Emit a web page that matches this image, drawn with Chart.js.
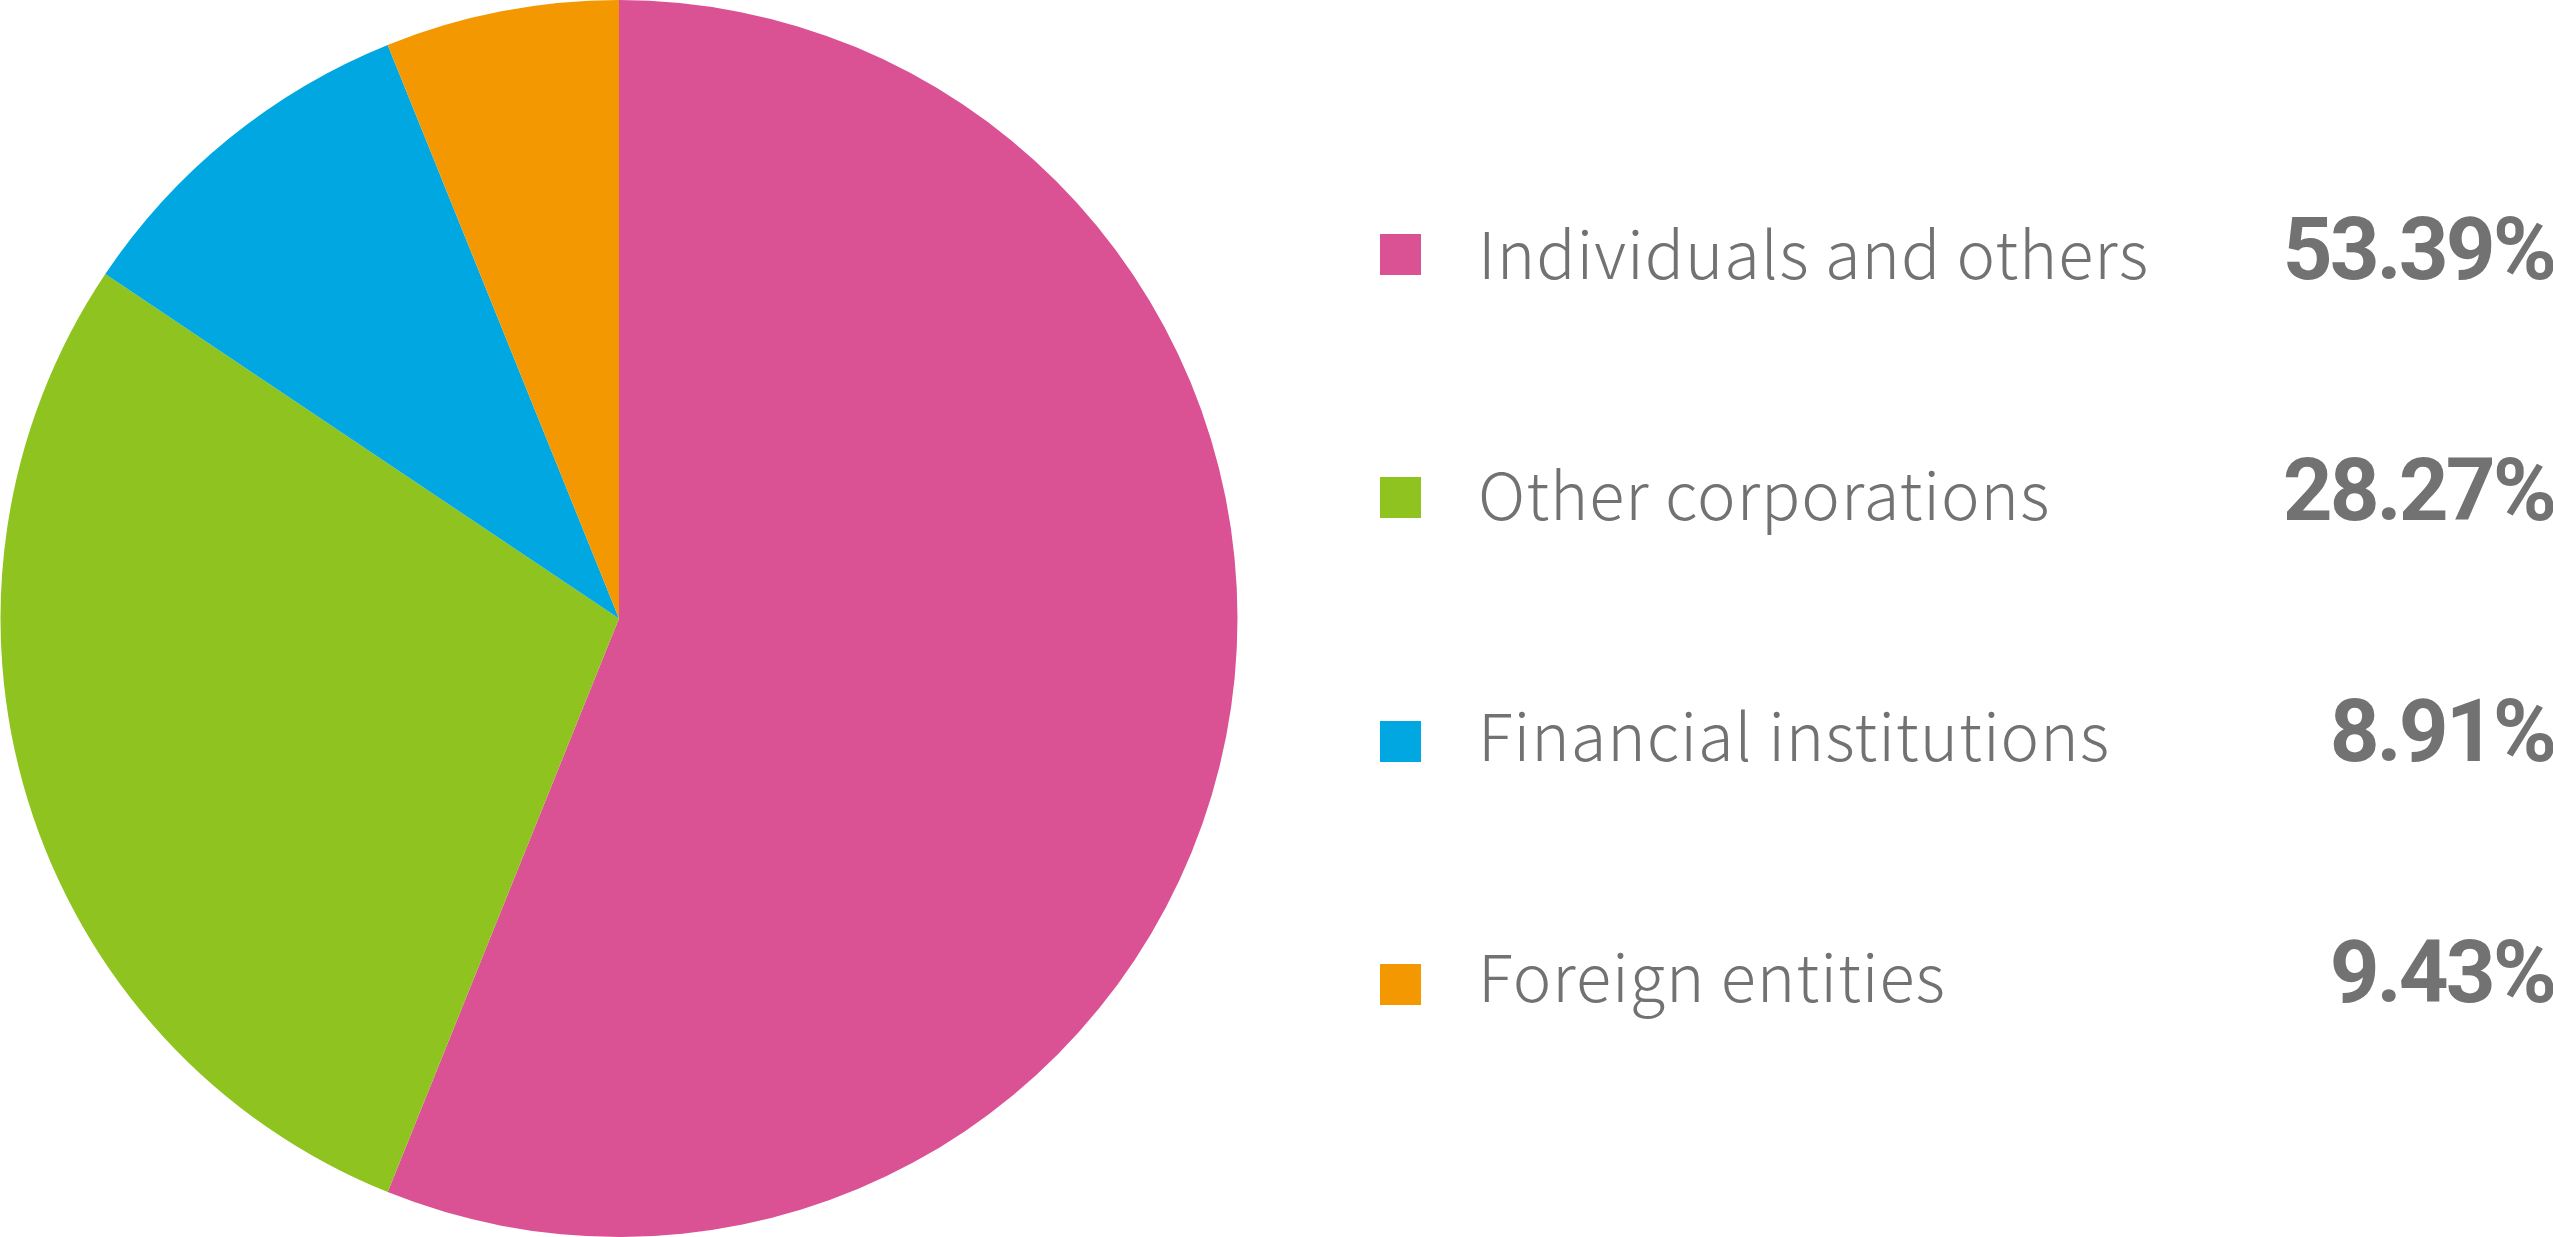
<!DOCTYPE html>
<html>
<head>
<meta charset="utf-8">
<script src="https://cdn.jsdelivr.net/npm/chart.js@4.4.1/dist/chart.umd.min.js"></script>
<style>
  html, body { margin: 0; padding: 0; background: #ffffff; overflow: hidden; }
  #wrap { position: relative; width: 2553px; height: 1237px; }
</style>
</head>
<body>
<div id="wrap"><canvas id="c" width="2553" height="1237"></canvas></div>
<script>
// Categories (legend order, drawn clockwise from 12 o'clock)
const categories = ["Individuals and others", "Other corporations", "Financial institutions", "Foreign entities"];
// Slice sizes (% of the circle)
const sliceValues = [56.1, 28.3, 9.5, 6.1];
// Percentage labels as printed in the legend
const percentLabels = ["53.39%", "28.27%", "8.91%", "9.43%"];
const sliceColors = ["#DA5194", "#8FC31F", "#00A7E1", "#F39800"];

const TEXT_GRAY = "#727272";

const legendPlugin = {
  id: 'sideLegend',
  afterDraw(chart) {
    const ctx = chart.ctx;
    const x0 = 1380;          // square left
    const sq = 41;            // square size
    const textX = 1478;       // label start
    const rightX = 2551;      // percentage right edge
    const firstSqTop = 234;
    const sqGap = 243.3;
    const firstBase = 279;    // baseline of first row
    const baseGap = 241;
    ctx.save();
    categories.forEach((name, i) => {
      const base = firstBase + i * baseGap;
      ctx.fillStyle = sliceColors[i];
      ctx.fillRect(x0, Math.round(firstSqTop + i * sqGap), sq, sq);
      ctx.fillStyle = TEXT_GRAY;
      ctx.textBaseline = 'alphabetic';
      ctx.textAlign = 'left';
      ctx.letterSpacing = '1px';
      ctx.font = '300 65px "Noto Sans CJK JP", "Noto Sans", sans-serif';
      ctx.fillText(name, textX, base);
      ctx.textAlign = 'right';
      ctx.letterSpacing = '-3px';
      ctx.font = 'bold 87px Roboto, "Liberation Sans", sans-serif';
      ctx.fillText(percentLabels[i], rightX + 3, base);
    });
    ctx.restore();
  }
};

new Chart(document.getElementById('c'), {
  type: 'pie',
  data: {
    labels: categories,
    datasets: [{
      data: sliceValues,
      backgroundColor: sliceColors,
      borderWidth: 0,
      hoverOffset: 0
    }]
  },
  options: {
    responsive: false,
    animation: false,
    devicePixelRatio: 1,
    layout: { padding: { left: 0, top: 0, bottom: 0, right: 2553 - 1238 } },
    plugins: {
      legend: { display: false },
      tooltip: { enabled: false }
    }
  },
  plugins: [legendPlugin]
});
</script>
</body>
</html>
